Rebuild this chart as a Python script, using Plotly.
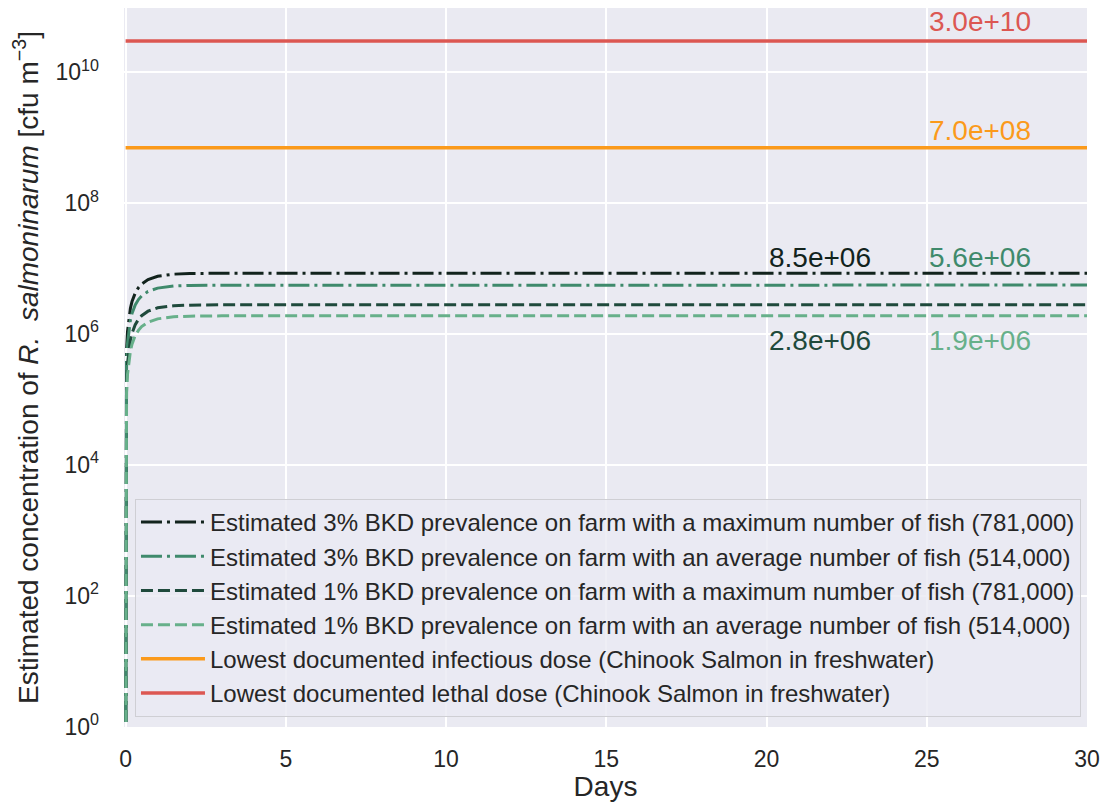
import math
import plotly.graph_objects as go

# Days since start of the simulation
days = [0, 0.01, 0.03, 0.06, 0.1, 0.15, 0.2, 0.3, 0.4, 0.5, 0.7, 1.0, 1.5, 2.0, 3.0, 5.0, 10.0, 20.0, 30.0]

# Estimated R. salmoninarum concentration (cfu m^-3); day 0 is essentially clean water
prev3_max = [1e-2, 1.9e5, 5.7e5, 1.1e6, 1.74e6, 2.48e6, 3.14e6, 4.23e6, 5.11e6, 5.81e6, 6.8e6, 7.65e6,
             8.23e6, 8.42e6, 8.49e6, 8.5e6, 8.5e6, 8.5e6, 8.5e6]
prev3_avg = [1e-2, 1.27e5, 3.7e5, 7.2e5, 1.15e6, 1.64e6, 2.07e6, 2.79e6, 3.37e6, 3.82e6, 4.48e6, 5.04e6,
             5.42e6, 5.54e6, 5.59e6, 5.6e6, 5.6e6, 5.6e6, 5.6e6]
prev1_max = [1e-2, 6.4e4, 1.87e5, 3.6e5, 5.7e5, 8.2e5, 1.03e6, 1.39e6, 1.68e6, 1.91e6, 2.24e6, 2.52e6,
             2.71e6, 2.77e6, 2.8e6, 2.8e6, 2.8e6, 2.8e6, 2.8e6]
prev1_avg = [1e-2, 4.3e4, 1.27e5, 2.45e5, 3.9e5, 5.5e5, 7.0e5, 9.5e5, 1.14e6, 1.30e6, 1.52e6, 1.71e6,
             1.84e6, 1.88e6, 1.9e6, 1.9e6, 1.9e6, 1.9e6, 1.9e6]

# Reference doses
infectious_dose = 7.0e8
lethal_dose = 3.0e10
dose_days = [0, 30]

labels = [
    "Estimated 3% BKD prevalence on farm with a maximum number of fish (781,000)",
    "Estimated 3% BKD prevalence on farm with an average number of fish (514,000)",
    "Estimated 1% BKD prevalence on farm with a maximum number of fish (781,000)",
    "Estimated 1% BKD prevalence on farm with an average number of fish (514,000)",
    "Lowest documented infectious dose (Chinook Salmon in freshwater)",
    "Lowest documented lethal dose (Chinook Salmon in freshwater)",
]

c_dark = "#12231d"
c_mid = "#3f8a6c"
c_darkgreen = "#1f4a3c"
c_light = "#67b08a"
c_orange = "#fb9a1b"
c_red = "#dc5752"

dashdot = "21px,5px,3px,5px"
dashed = "12px,5px"

FONT = "Liberation Sans, Arial, sans-serif"
TXT = "#262626"

fig = go.Figure()
series = [
    (prev3_max, c_dark, dashdot, labels[0]),
    (prev3_avg, c_mid, dashdot, labels[1]),
    (prev1_max, c_darkgreen, dashed, labels[2]),
    (prev1_avg, c_light, dashed, labels[3]),
]
for vals, col, dash, name in series:
    fig.add_trace(go.Scatter(x=days, y=vals, mode="lines", name=name, legendgroup=name,
                             line=dict(color=col, width=3, dash=dash)))

fig.add_trace(go.Scatter(x=dose_days, y=[infectious_dose] * 2, mode="lines", name=labels[4],
                         legendgroup=labels[4], line=dict(color=c_orange, width=3.5)))
fig.add_trace(go.Scatter(x=dose_days, y=[lethal_dose] * 2, mode="lines", name=labels[5],
                         legendgroup=labels[5], line=dict(color=c_red, width=3.5)))

# Value labels next to the plateau lines
notes = [
    (25, lethal_dose, c_red, 19),
    (25, infectious_dose, c_orange, 17),
    (20, prev3_max[-1], c_dark, 16),
    (25, prev3_avg[-1], c_mid, 28),
    (20, prev1_max[-1], c_darkgreen, -36),
    (25, prev1_avg[-1], c_light, -25),
]
for x, v, col, dy in notes:
    fig.add_annotation(x=x, y=math.log10(v), text=f"{v:.1e}", showarrow=False,
                       xanchor="left", yanchor="middle", yshift=dy, xshift=0,
                       font=dict(family=FONT, size=28, color=col))

ytick_vals = [1, 1e2, 1e4, 1e6, 1e8, 1e10]
ytick_text = ["10<sup>0</sup>", "10<sup>2</sup>", "10<sup>4</sup>", "10<sup>6</sup>",
              "10<sup>8</sup>", "10<sup>10</sup>"]

fig.update_layout(
    width=1102, height=802,
    margin=dict(l=124, r=15, t=8, b=75),
    paper_bgcolor="white",
    plot_bgcolor="#eaeaf2",
    font=dict(family=FONT, size=23, color=TXT),
    showlegend=True,
    legend=dict(x=0.0114, y=0.014, xanchor="left", yanchor="bottom",
                bgcolor="rgba(234,234,242,0.8)", bordercolor="#cfcfd4", borderwidth=1,
                font=dict(family=FONT, size=24, color=TXT), tracegroupgap=0,
                itemwidth=64),
    xaxis=dict(range=[-0.05, 30], tickvals=[0, 5, 10, 15, 20, 25, 30],
               showgrid=True, gridcolor="white", gridwidth=1.5, zeroline=False,
               showline=False, ticks="", ticklabelstandoff=16, automargin=False,
               title=dict(text="Days", standoff=15),
               tickfont=dict(size=23)),
    yaxis=dict(type="log", range=[0, 10.98], tickvals=ytick_vals, ticktext=ytick_text,
               showgrid=True, gridcolor="white", gridwidth=1.5, zeroline=False,
               showline=False, ticks="", ticklabelstandoff=24, automargin=False,
               title=dict(text="Estimated concentration of <i>R.  salmoninarum</i> [cfu m<sup>−3</sup>]",
                          standoff=8),
               tickfont=dict(size=23)),
)

fig.write_html("out.html")
